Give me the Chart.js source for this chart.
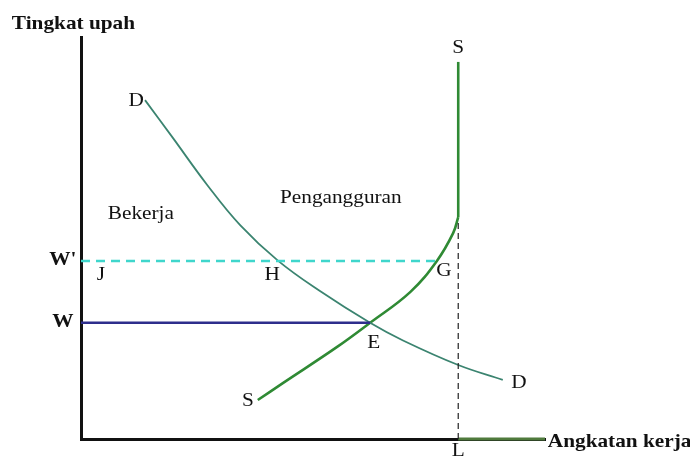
<!DOCTYPE html>
<html>
<head>
<meta charset="utf-8">
<script src="https://cdn.jsdelivr.net/npm/chart.js@4.4.0/dist/chart.umd.min.js"></script>
<style>
  html, body { margin: 0; padding: 0; background: #fff; }
  #wrap { width: 690px; height: 458px; }
</style>
</head>
<body>
<div id="wrap"><canvas id="labour"></canvas></div>
<script>
// demand curve D (labour quantity, wage)
const demandQ = [13.8, 19.8, 27.2, 34.3, 42.5, 51.5, 62.3, 69.4, 81.3, 90.9];
const demandW = [84.3, 74.9, 63.2, 53.2, 44.3, 36.8, 28.9, 24.5, 18.4, 14.7];

// supply curve S, bending up to the vertical part at L
const supplyQ = [38.1, 43.5, 55.2, 62.3, 71.0, 76.7, 80.2, 81.3];
const supplyW = [9.7, 13.9, 22.9, 28.9, 36.6, 44.3, 51.2, 55.2];
const supplyTopQ = [81.3, 81.3];
const supplyTopW = [55.2, 93.8];

// wage levels, where they meet the curves, and total labour force
const wageHigh = 44.3;    // W'
const wageHighEnd = 76.7; // G
const wageEq = 28.9;      // W
const wageEqEnd = 62.3;   // E
const labourForce = 81.3; // L

const labels = [
  { text: 'Tingkat upah', x: -14.9, y: 103.2, bold: true, align: 'left' },
  { text: 'Angkatan kerja', x: 100.6, y: -0.7, bold: true, align: 'left' },
  { text: "W'", x: -3.9, y: 44.5, bold: true },
  { text: 'W', x: -3.9, y: 29.1, bold: true },
  { text: 'D', x: 11.9, y: 84.1 },
  { text: 'S', x: 81.3, y: 97.3 },
  { text: 'Bekerja', x: 12.9, y: 56.0 },
  { text: 'Pengangguran', x: 56.0, y: 60.0 },
  { text: 'J', x: 4.3, y: 40.8 },
  { text: 'H', x: 41.2, y: 40.8 },
  { text: 'G', x: 78.2, y: 41.8 },
  { text: 'E', x: 63.1, y: 23.9 },
  { text: 'S', x: 36.0, y: 9.5 },
  { text: 'D', x: 94.4, y: 13.9 },
  { text: 'L', x: 81.3, y: -3.0 }
];

function pts(xs, ys) {
  return xs.map((x, i) => ({ x: x, y: ys[i] }));
}

// writes the point letters and axis names at data positions
const textPlugin = {
  id: 'textLabels',
  afterDatasetsDraw(chart) {
    const ctx = chart.ctx;
    const sx = chart.scales.x, sy = chart.scales.y;
    ctx.save();
    ctx.fillStyle = '#111';
    ctx.textBaseline = 'middle';
    labels.forEach(l => {
      const px = sx.getPixelForValue(l.x);
      const py = sy.getPixelForValue(l.y);
      ctx.font = (l.bold ? 'bold ' : '') + '19px "Liberation Serif", "DejaVu Serif", serif';
      ctx.textAlign = l.align || 'center';
      ctx.save();
      ctx.translate(px, py);
      ctx.scale(1.12, 1);
      ctx.fillText(l.text, 0, 0);
      ctx.restore();
    });
    ctx.restore();
  }
};

new Chart(document.getElementById('labour'), {
  type: 'scatter',
  data: {
    datasets: [
      {
        label: 'W',
        data: pts([0, wageEqEnd], [wageEq, wageEq]),
        showLine: true,
        borderColor: '#2e2e8c',
        borderWidth: 2.5,
        pointRadius: 0
      },
      {
        label: "W'",
        data: pts([0, wageHighEnd], [wageHigh, wageHigh]),
        showLine: true,
        borderColor: '#3fd6cc',
        borderWidth: 2.5,
        borderDash: [9, 6],
        pointRadius: 0
      },
      {
        label: 'L',
        data: pts([labourForce, labourForce], [0, 54]),
        showLine: true,
        borderColor: '#222',
        borderWidth: 1.2,
        borderDash: [6, 4],
        pointRadius: 0
      },
      {
        label: 'D',
        data: pts(demandQ, demandW),
        showLine: true,
        borderColor: '#3b8470',
        borderWidth: 1.8,
        tension: 0.4,
        pointRadius: 0
      },
      {
        label: 'S',
        data: pts(supplyQ, supplyW),
        showLine: true,
        borderColor: '#2f8a34',
        borderWidth: 2.6,
        tension: 0.4,
        pointRadius: 0
      },
      {
        label: 'S vertikal',
        data: pts(supplyTopQ, supplyTopW),
        showLine: true,
        borderColor: '#2f8a34',
        borderWidth: 2.6,
        pointRadius: 0
      },
      {
        label: 'sumbu',
        data: pts([labourForce, 100], [0, 0]),
        showLine: true,
        borderColor: '#4f7a3c',
        borderWidth: 3,
        pointRadius: 0,
        clip: false
      }
    ]
  },
  options: {
    responsive: true,
    maintainAspectRatio: false,
    animation: false,
    layout: { padding: { left: 73, right: 145, top: 37, bottom: 11 } },
    plugins: {
      legend: { display: false },
      tooltip: { enabled: false }
    },
    scales: {
      x: {
        type: 'linear',
        min: 0,
        max: 100,
        grid: { display: false },
        ticks: { display: false },
        border: { display: true, color: '#111', width: 3 }
      },
      y: {
        type: 'linear',
        min: 0,
        max: 100,
        grid: { display: false },
        ticks: { display: false },
        border: { display: true, color: '#111', width: 3 }
      }
    }
  },
  plugins: [textPlugin]
});
</script>
</body>
</html>
